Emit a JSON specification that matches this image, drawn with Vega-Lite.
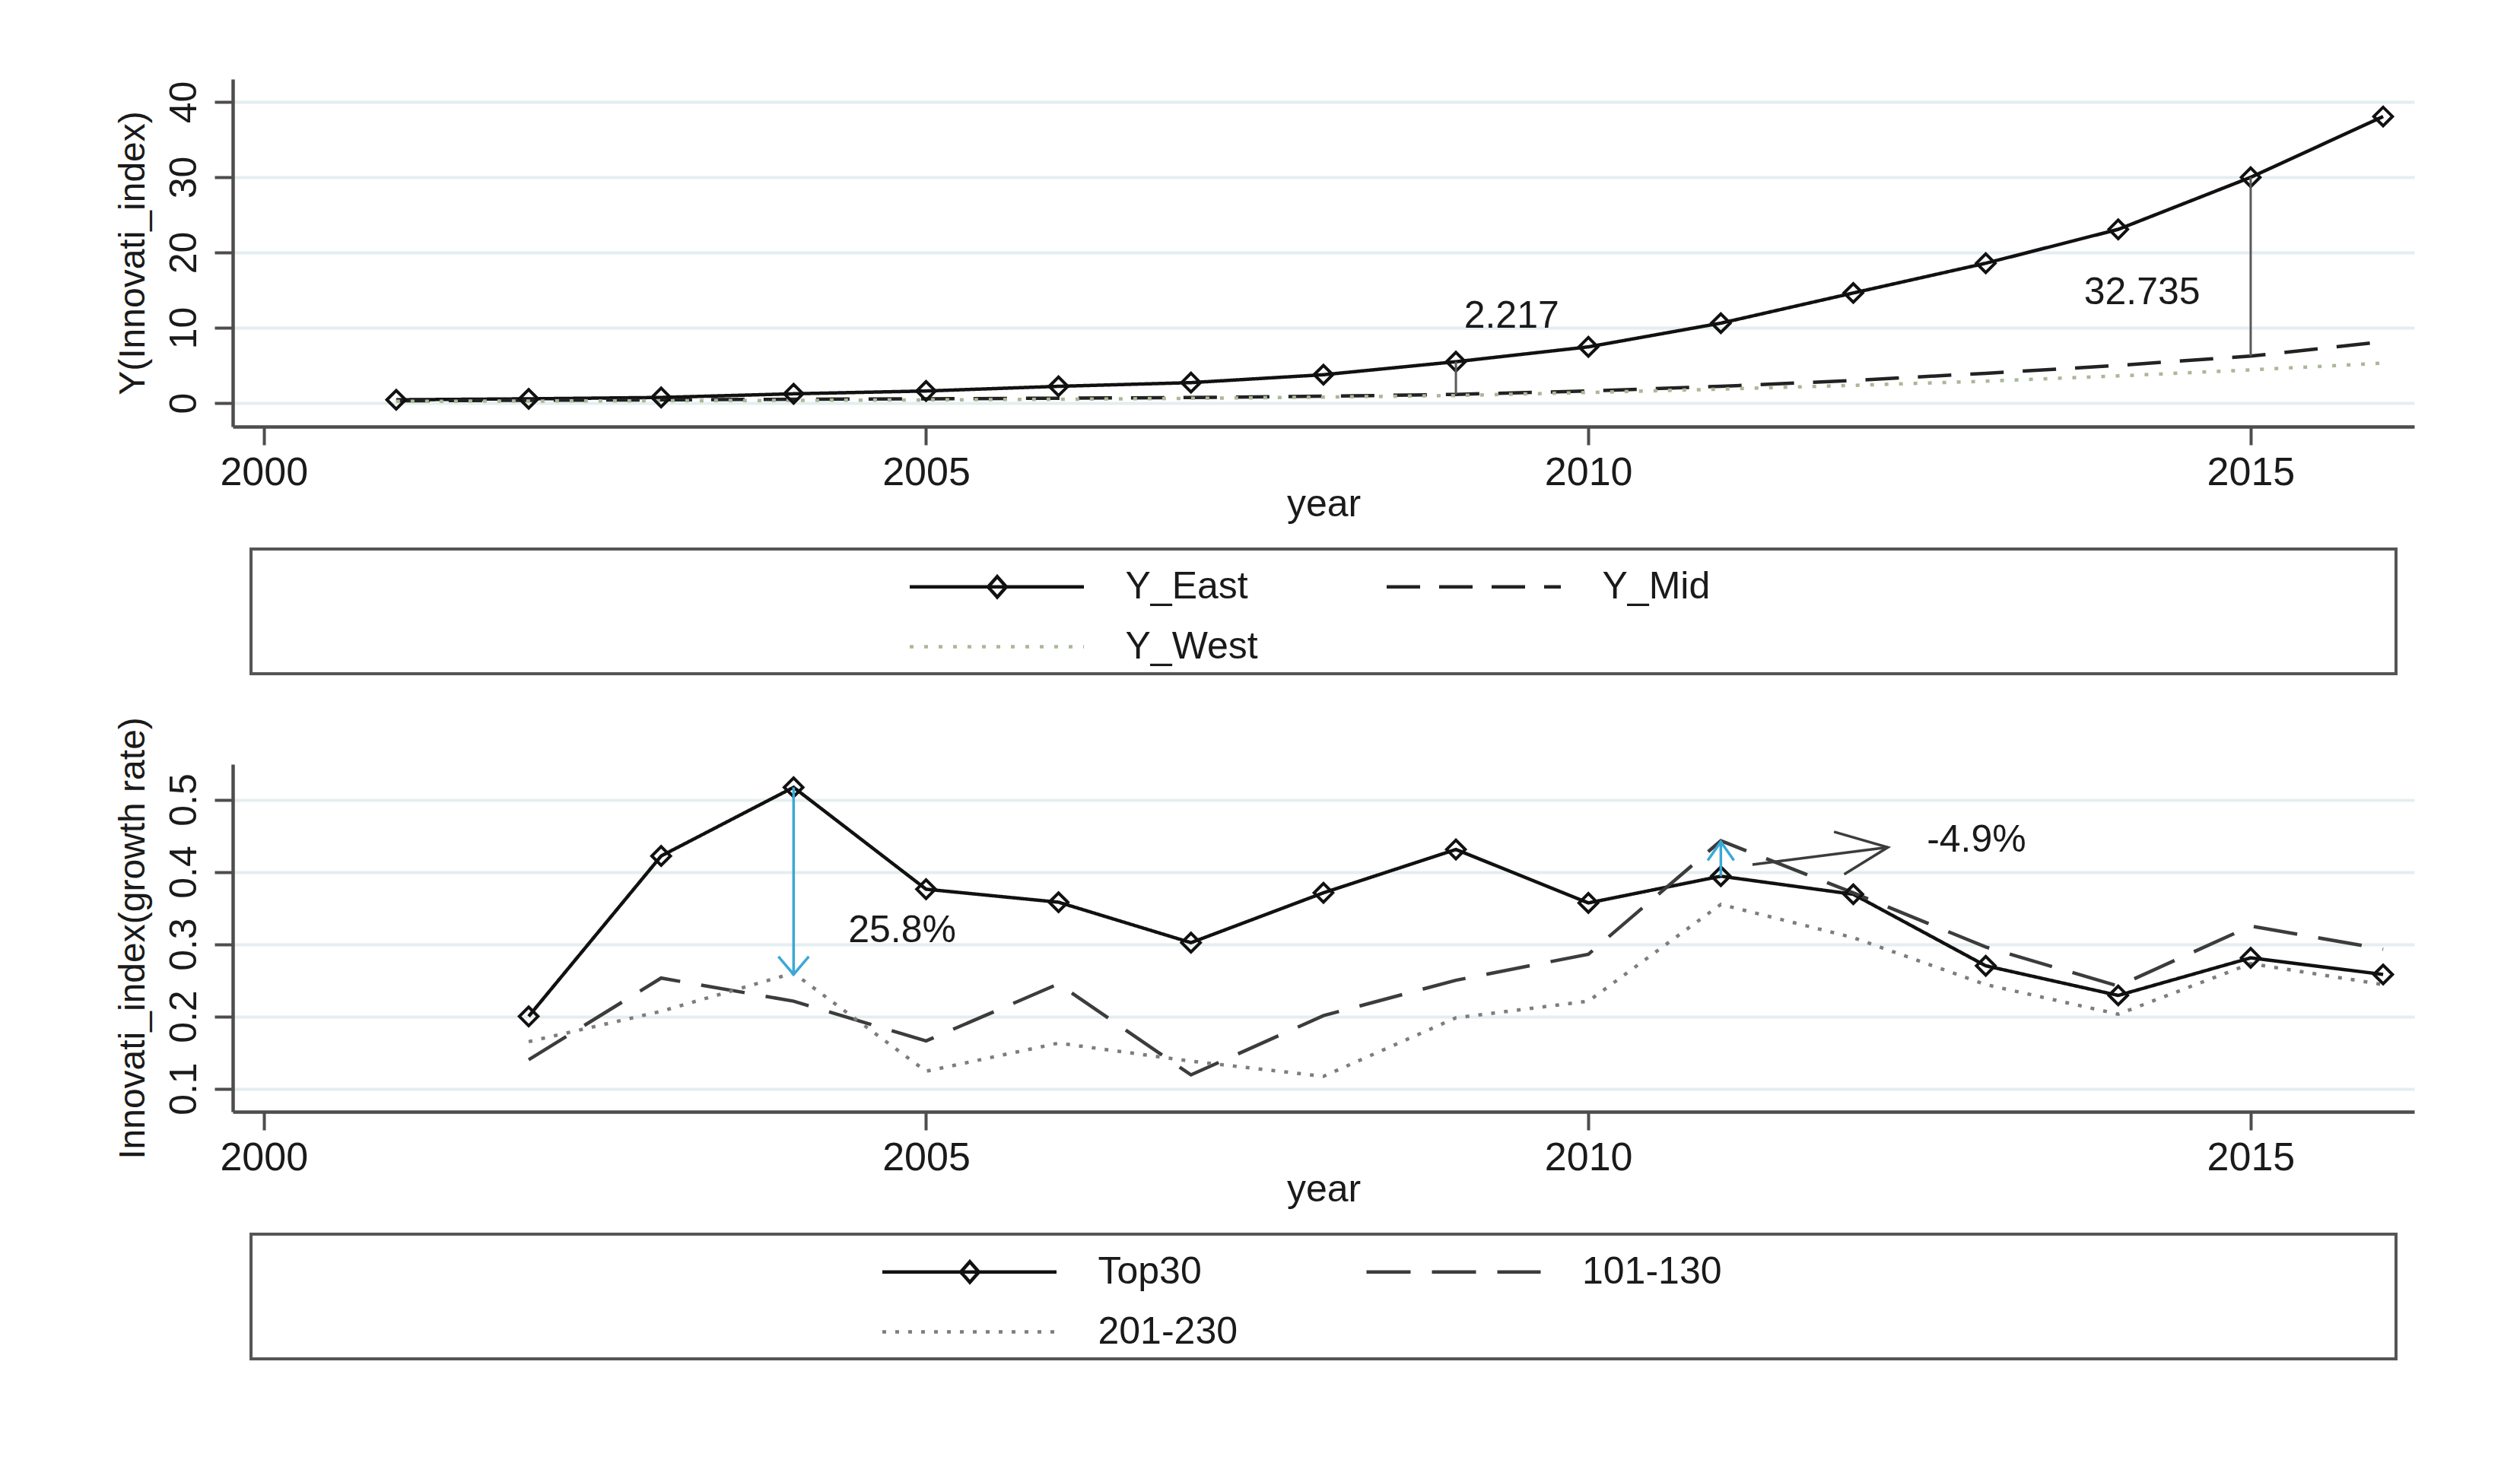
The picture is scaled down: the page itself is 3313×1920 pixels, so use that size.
{
  "$schema": "https://vega.github.io/schema/vega-lite/v6.json",
  "background": "white",
  "padding": {"left": 151, "top": 104, "right": 138, "bottom": 130},
  "config": {
    "font": "Liberation Sans",
    "view": {"stroke": null},
    "axis": {
      "domainColor": "#4d4d4d", "domainWidth": 4.5,
      "tickColor": "#4d4d4d", "tickWidth": 4, "tickSize": 24,
      "labelFontSize": 50, "labelColor": "#1a1a1a",
      "titleFontSize": 48, "titleFontWeight": "normal", "titleColor": "#1a1a1a",
      "labelFlush": false, "labelOverlap": false,
      "gridColor": "#e4eef0", "gridWidth": 4
    },
    "axisX": {"grid": false, "labelFontSize": 52, "titleFontSize": 50, "labelPadding": 11, "titlePadding": 0, "minExtent": 77, "maxExtent": 77},
    "axisY": {"grid": true, "labelAngle": 270, "labelAlign": "center", "labelBaseline": "alphabetic", "labelPadding": 25, "titlePadding": 26.5, "minExtent": 80, "maxExtent": 80, "titleAngle": 270, "titleBaseline": "bottom"},
    "legend": {"direction": "horizontal", "labelFontSize": 50, "labelColor": "#1a1a1a", "symbolSize": 2500, "symbolStrokeWidth": 4.5, "symbolOpacity": 1, "symbolFillColor": "transparent", "labelLimit": 1000, "padding": 0, "rowPadding": 26, "labelOffset": 231, "columns": 2}
  },
  "datasets": {
    "regional": [
      {"year": 2001, "series": "Y_East", "value": 0.43},
      {"year": 2002, "series": "Y_East", "value": 0.56},
      {"year": 2003, "series": "Y_East", "value": 0.74},
      {"year": 2004, "series": "Y_East", "value": 1.23},
      {"year": 2005, "series": "Y_East", "value": 1.6},
      {"year": 2006, "series": "Y_East", "value": 2.22},
      {"year": 2007, "series": "Y_East", "value": 2.71},
      {"year": 2008, "series": "Y_East", "value": 3.76},
      {"year": 2009, "series": "Y_East", "value": 5.49},
      {"year": 2010, "series": "Y_East", "value": 7.46},
      {"year": 2011, "series": "Y_East", "value": 10.61},
      {"year": 2012, "series": "Y_East", "value": 14.62},
      {"year": 2013, "series": "Y_East", "value": 18.57},
      {"year": 2014, "series": "Y_East", "value": 23.07},
      {"year": 2015, "series": "Y_East", "value": 29.98},
      {"year": 2016, "series": "Y_East", "value": 38.06},
      {"year": 2001, "series": "Y_Mid", "value": 0.3},
      {"year": 2002, "series": "Y_Mid", "value": 0.36},
      {"year": 2003, "series": "Y_Mid", "value": 0.42},
      {"year": 2004, "series": "Y_Mid", "value": 0.5},
      {"year": 2005, "series": "Y_Mid", "value": 0.56},
      {"year": 2006, "series": "Y_Mid", "value": 0.64},
      {"year": 2007, "series": "Y_Mid", "value": 0.74},
      {"year": 2008, "series": "Y_Mid", "value": 0.9},
      {"year": 2009, "series": "Y_Mid", "value": 1.15},
      {"year": 2010, "series": "Y_Mid", "value": 1.6},
      {"year": 2011, "series": "Y_Mid", "value": 2.22},
      {"year": 2012, "series": "Y_Mid", "value": 3.0},
      {"year": 2013, "series": "Y_Mid", "value": 3.95},
      {"year": 2014, "series": "Y_Mid", "value": 5.0},
      {"year": 2015, "series": "Y_Mid", "value": 6.23},
      {"year": 2016, "series": "Y_Mid", "value": 8.14},
      {"year": 2001, "series": "Y_West", "value": 0.22},
      {"year": 2002, "series": "Y_West", "value": 0.26},
      {"year": 2003, "series": "Y_West", "value": 0.3},
      {"year": 2004, "series": "Y_West", "value": 0.35},
      {"year": 2005, "series": "Y_West", "value": 0.42},
      {"year": 2006, "series": "Y_West", "value": 0.5},
      {"year": 2007, "series": "Y_West", "value": 0.62},
      {"year": 2008, "series": "Y_West", "value": 0.78},
      {"year": 2009, "series": "Y_West", "value": 1.0},
      {"year": 2010, "series": "Y_West", "value": 1.4},
      {"year": 2011, "series": "Y_West", "value": 1.85},
      {"year": 2012, "series": "Y_West", "value": 2.35},
      {"year": 2013, "series": "Y_West", "value": 2.9},
      {"year": 2014, "series": "Y_West", "value": 3.6},
      {"year": 2015, "series": "Y_West", "value": 4.4},
      {"year": 2016, "series": "Y_West", "value": 5.3}
    ],
    "regionalGaps": [
      {"year": 2009, "upper": 5.49, "lower": 1.15},
      {"year": 2015, "upper": 29.98, "lower": 6.23}
    ],
    "regionalNotes": [
      {"year": 2009.42, "value": 11.5, "note": "2.217"},
      {"year": 2014.18, "value": 14.65, "note": "32.735"}
    ],
    "ranked": [
      {"year": 2002, "series": "Top30", "value": 0.2},
      {"year": 2003, "series": "Top30", "value": 0.422},
      {"year": 2004, "series": "Top30", "value": 0.517},
      {"year": 2005, "series": "Top30", "value": 0.376},
      {"year": 2006, "series": "Top30", "value": 0.358},
      {"year": 2007, "series": "Top30", "value": 0.302},
      {"year": 2008, "series": "Top30", "value": 0.371},
      {"year": 2009, "series": "Top30", "value": 0.431},
      {"year": 2010, "series": "Top30", "value": 0.357},
      {"year": 2011, "series": "Top30", "value": 0.394},
      {"year": 2012, "series": "Top30", "value": 0.369},
      {"year": 2013, "series": "Top30", "value": 0.27},
      {"year": 2014, "series": "Top30", "value": 0.229},
      {"year": 2015, "series": "Top30", "value": 0.281},
      {"year": 2016, "series": "Top30", "value": 0.258},
      {"year": 2002, "series": "101-130", "value": 0.14},
      {"year": 2003, "series": "101-130", "value": 0.253},
      {"year": 2004, "series": "101-130", "value": 0.221},
      {"year": 2005, "series": "101-130", "value": 0.166},
      {"year": 2006, "series": "101-130", "value": 0.245},
      {"year": 2007, "series": "101-130", "value": 0.119},
      {"year": 2008, "series": "101-130", "value": 0.201},
      {"year": 2009, "series": "101-130", "value": 0.25},
      {"year": 2010, "series": "101-130", "value": 0.286},
      {"year": 2011, "series": "101-130", "value": 0.443},
      {"year": 2012, "series": "101-130", "value": 0.371},
      {"year": 2013, "series": "101-130", "value": 0.296},
      {"year": 2014, "series": "101-130", "value": 0.242},
      {"year": 2015, "series": "101-130", "value": 0.325},
      {"year": 2016, "series": "101-130", "value": 0.293},
      {"year": 2002, "series": "201-230", "value": 0.165},
      {"year": 2003, "series": "201-230", "value": 0.207},
      {"year": 2004, "series": "201-230", "value": 0.26},
      {"year": 2005, "series": "201-230", "value": 0.124},
      {"year": 2006, "series": "201-230", "value": 0.163},
      {"year": 2007, "series": "201-230", "value": 0.138},
      {"year": 2008, "series": "201-230", "value": 0.117},
      {"year": 2009, "series": "201-230", "value": 0.198},
      {"year": 2010, "series": "201-230", "value": 0.221},
      {"year": 2011, "series": "201-230", "value": 0.355},
      {"year": 2012, "series": "201-230", "value": 0.309},
      {"year": 2013, "series": "201-230", "value": 0.244},
      {"year": 2014, "series": "201-230", "value": 0.203},
      {"year": 2015, "series": "201-230", "value": 0.273},
      {"year": 2016, "series": "201-230", "value": 0.244}
    ],
    "rankedArrows": [
      {"year": 2004, "year2": 2004, "from": 0.517, "to": 0.258, "kind": "gap", "dir": "down"},
      {"year": 2011, "year2": 2011, "from": 0.394, "to": 0.4416, "kind": "gap", "dir": "up"},
      {"year": 2011.239, "year2": 2012.261, "from": 0.41, "to": 0.434, "kind": "pointer", "dir": "right"}
    ],
    "rankedNotes": [
      {"year": 2004.82, "value": 0.318, "note": "25.8%"},
      {"year": 2012.93, "value": 0.444, "note": "-4.9%"}
    ]
  },
  "resolve": {
    "scale": {"color": "independent", "strokeDash": "independent", "stroke": "independent", "shape": "independent"},
    "legend": {"color": "independent", "strokeDash": "independent", "shape": "independent"}
  },
  "spacing": 54,
  "vconcat": [
    {
      "bounds": "flush",
      "center": true,
      "spacing": 161,
      "vconcat": [
        {
          "width": 2868,
          "height": 457,
          "view": {"stroke": null},
          "layer": [
            {
              "data": {"name": "regional"},
              "mark": {"type": "line", "strokeWidth": 4.5},
              "encoding": {
                "x": {"field": "year", "type": "quantitative", "scale": {"domain": [1999.766, 2016.235], "nice": false, "zero": false}, "axis": {"title": "year", "values": [2000, 2005, 2010, 2015], "format": "d"}},
                "y": {"field": "value", "type": "quantitative", "scale": {"domain": [-3.13, 43.03], "nice": false, "zero": false}, "axis": {"title": "Y(Innovati_index)", "values": [0, 10, 20, 30, 40], "format": "d"}},
                "color": {
                  "field": "series", "type": "nominal",
                  "scale": {"domain": ["Y_East", "Y_Mid", "Y_West"], "range": ["#111111", "#222222", "#a9b996"]},
                  "legend": {"title": null, "orient": "none", "legendX": 887.5, "legendY": 640, "columnPadding": 159}
                },
                "strokeDash": {
                  "field": "series", "type": "nominal",
                  "scale": {"domain": ["Y_East", "Y_Mid", "Y_West"], "range": [[1, 0], [44, 25], [5, 14]]},
                  "legend": {"title": null, "orient": "none", "legendX": 887.5, "legendY": 640, "columnPadding": 159}
                }
              }
            },
            {
              "data": {"name": "regional"},
              "transform": [{"filter": "false"}],
              "mark": {"type": "point", "filled": false, "opacity": 1},
              "encoding": {
                "shape": {
                  "field": "series", "type": "nominal",
                  "scale": {"domain": ["Y_East", "Y_Mid", "Y_West"], "range": ["M-1,0H8.16M3.6,-0.54L4.08,0L3.6,0.54L3.12,0Z", "M-1,0H8.16", "M-1,0H8.16"]},
                  "legend": {"title": null, "orient": "none", "legendX": 887.5, "legendY": 640, "columnPadding": 159}
                }
              }
            },
            {
              "data": {"name": "regional"},
              "transform": [{"filter": "datum.series === 'Y_East'"}],
              "mark": {"type": "point", "shape": "diamond", "size": 600, "filled": false, "stroke": "#111111", "strokeWidth": 4, "opacity": 1},
              "encoding": {
                "x": {"field": "year", "type": "quantitative"},
                "y": {"field": "value", "type": "quantitative"}
              }
            },
            {
              "data": {"name": "regionalGaps"},
              "mark": {"type": "rule", "color": "#5a5a5a", "strokeWidth": 3},
              "encoding": {
                "x": {"field": "year", "type": "quantitative"},
                "y": {"field": "upper", "type": "quantitative"},
                "y2": {"field": "lower"}
              }
            },
            {
              "data": {"name": "regionalNotes"},
              "mark": {"type": "text", "fontSize": 50, "color": "#1a1a1a", "align": "center", "baseline": "middle"},
              "encoding": {
                "x": {"field": "year", "type": "quantitative"},
                "y": {"field": "value", "type": "quantitative"},
                "text": {"field": "note"}
              }
            }
          ]
        },
        {
          "width": 2820,
          "height": 164,
          "view": {"stroke": "#555555", "strokeWidth": 4},
          "data": {"values": []},
          "mark": "rule",
          "encoding": {}
        }
      ]
    },
    {
      "bounds": "flush",
      "center": true,
      "spacing": 161,
      "vconcat": [
        {
          "width": 2868,
          "height": 457,
          "view": {"stroke": null},
          "layer": [
            {
              "data": {"name": "ranked"},
              "mark": {"type": "line", "strokeWidth": 4.5},
              "encoding": {
                "x": {"field": "year", "type": "quantitative", "scale": {"domain": [1999.766, 2016.235], "nice": false, "zero": false}, "axis": {"title": "year", "values": [2000, 2005, 2010, 2015], "format": "d"}},
                "y": {"field": "value", "type": "quantitative", "scale": {"domain": [0.068, 0.549], "nice": false, "zero": false}, "axis": {"title": "Innovati_index(growth rate)", "values": [0.1, 0.2, 0.3, 0.4, 0.5], "format": ".1f"}},
                "color": {
                  "field": "series", "type": "nominal",
                  "scale": {"domain": ["Top30", "101-130", "201-230"], "range": ["#111111", "#3c3c3c", "#7d7d7d"]},
                  "legend": {"title": null, "orient": "none", "legendX": 851.5, "legendY": 640, "columnPadding": 159.5}
                },
                "strokeDash": {
                  "field": "series", "type": "nominal",
                  "scale": {"domain": ["Top30", "101-130", "201-230"], "range": [[1, 0], [58, 28], [5, 12]]},
                  "legend": {"title": null, "orient": "none", "legendX": 851.5, "legendY": 640, "columnPadding": 159.5}
                }
              }
            },
            {
              "data": {"name": "ranked"},
              "transform": [{"filter": "false"}],
              "mark": {"type": "point", "filled": false, "opacity": 1},
              "encoding": {
                "shape": {
                  "field": "series", "type": "nominal",
                  "scale": {"domain": ["Top30", "101-130", "201-230"], "range": ["M-1,0H8.16M3.6,-0.54L4.08,0L3.6,0.54L3.12,0Z", "M-1,0H8.16", "M-1,0H8.16"]},
                  "legend": {"title": null, "orient": "none", "legendX": 851.5, "legendY": 640, "columnPadding": 159.5}
                }
              }
            },
            {
              "data": {"name": "ranked"},
              "transform": [{"filter": "datum.series === 'Top30'"}],
              "mark": {"type": "point", "shape": "diamond", "size": 600, "filled": false, "stroke": "#111111", "strokeWidth": 4, "opacity": 1},
              "encoding": {
                "x": {"field": "year", "type": "quantitative"},
                "y": {"field": "value", "type": "quantitative"}
              }
            },
            {
              "data": {"name": "rankedArrows"},
              "mark": {"type": "rule", "strokeWidth": 3.5},
              "encoding": {
                "x": {"field": "year", "type": "quantitative"},
                "x2": {"field": "year2"},
                "y": {"field": "from", "type": "quantitative"},
                "y2": {"field": "to"},
                "stroke": {"field": "kind", "type": "nominal", "scale": {"domain": ["gap", "pointer"], "range": ["#3aa8d8", "#3c3c3c"]}, "legend": null}
              }
            },
            {
              "data": {"name": "rankedArrows"},
              "transform": [{"filter": "datum.dir === 'down'"}],
              "mark": {"type": "point", "shape": "M-0.5,-0.59L0,0L0.5,-0.59", "size": 6400, "filled": false, "strokeWidth": 3.5, "opacity": 1},
              "encoding": {
                "x": {"field": "year2", "type": "quantitative"},
                "y": {"field": "to", "type": "quantitative"},
                "stroke": {"field": "kind", "type": "nominal", "legend": null}
              }
            },
            {
              "data": {"name": "rankedArrows"},
              "transform": [{"filter": "datum.dir === 'up'"}],
              "mark": {"type": "point", "shape": "M-0.43,0.61L0,0L0.43,0.61", "size": 6400, "filled": false, "strokeWidth": 3.5, "opacity": 1},
              "encoding": {
                "x": {"field": "year2", "type": "quantitative"},
                "y": {"field": "to", "type": "quantitative"},
                "stroke": {"field": "kind", "type": "nominal", "legend": null}
              }
            },
            {
              "data": {"name": "rankedArrows"},
              "transform": [{"filter": "datum.dir === 'right'"}],
              "mark": {"type": "point", "shape": "M-1.77,-0.51L0,0L-1.435,0.89", "size": 6400, "filled": false, "strokeWidth": 3.5, "opacity": 1},
              "encoding": {
                "x": {"field": "year2", "type": "quantitative"},
                "y": {"field": "to", "type": "quantitative"},
                "stroke": {"field": "kind", "type": "nominal", "legend": null}
              }
            },
            {
              "data": {"name": "rankedNotes"},
              "mark": {"type": "text", "fontSize": 50, "color": "#1a1a1a", "align": "center", "baseline": "middle"},
              "encoding": {
                "x": {"field": "year", "type": "quantitative"},
                "y": {"field": "value", "type": "quantitative"},
                "text": {"field": "note"}
              }
            }
          ]
        },
        {
          "width": 2820,
          "height": 164,
          "view": {"stroke": "#555555", "strokeWidth": 4},
          "data": {"values": []},
          "mark": "rule",
          "encoding": {}
        }
      ]
    }
  ]
}
